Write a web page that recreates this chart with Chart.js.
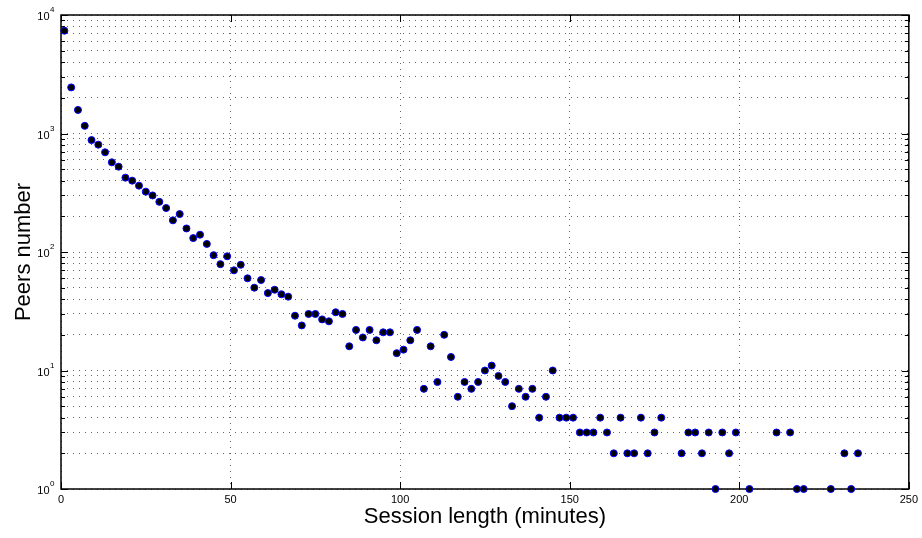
<!DOCTYPE html>
<html>
<head>
<meta charset="utf-8">
<title>Session length distribution</title>
<script src="https://cdn.jsdelivr.net/npm/chart.js@4.4.1/dist/chart.umd.min.js"></script>
<style>
  html, body { margin: 0; padding: 0; background: #fff; }
  canvas { display: block; }
</style>
</head>
<body>
<canvas id="sessions" width="922" height="538"></canvas>
<script>
// session length (minutes) and number of peers seen with that length
var sessionMinutes = [
  1, 3, 5, 7, 9, 11, 13, 15, 17, 19, 21, 23, 25, 27, 29, 31, 33, 35, 37, 39,
  41, 43, 45, 47, 49, 51, 53, 55, 57, 59, 61, 63, 65, 67, 69, 71, 73, 75, 77, 79,
  81, 83, 85, 87, 89, 91, 93, 95, 97, 99, 101, 103, 105, 107, 109, 111, 113, 115, 117, 119,
  121, 123, 125, 127, 129, 131, 133, 135, 137, 139, 141, 143, 145, 147, 149, 151, 153, 155, 157, 159,
  161, 163, 165, 167, 169, 171, 173, 175, 177, 183, 185, 187, 189, 191, 193, 195, 197, 199, 203,
  211, 215, 217, 219, 227, 231, 233, 235
];
var peerCounts = [
  7370, 2450, 1580, 1160, 880, 805, 694, 571, 525, 424, 400, 363, 323, 300, 265, 235, 185, 209, 158, 131,
  140, 117, 94, 79, 92, 70, 78, 60, 50, 58, 45, 48, 44, 42, 29, 24, 30, 30, 27, 26,
  31, 30, 16, 22, 19, 22, 18, 21, 21, 14, 15, 18, 22, 7, 16, 8, 20, 13, 6, 8,
  7, 8, 10, 11, 9, 8, 5, 7, 6, 7, 4, 6, 10, 4, 4, 4, 3, 3, 3, 4,
  3, 2, 4, 2, 2, 4, 2, 3, 4, 2, 3, 3, 2, 3, 1, 3, 2, 3, 1,
  3, 3, 1, 1, 1, 2, 1, 2
];

var xTickValues = [0, 50, 100, 150, 200, 250];
var yDecades = [1, 10, 100, 1000, 10000];

// log grid: 1..9 in every decade
var yGridValues = [];
yDecades.forEach(function (d, i) {
  if (i == yDecades.length - 1) { yGridValues.push(d); return; }
  for (var m = 1; m < 10; m++) yGridValues.push(d * m);
});

var points = sessionMinutes.map(function (m, i) { return { x: m, y: peerCounts[i] }; });

var FONT = "'Liberation Sans', Arial, Helvetica, sans-serif";

// box around the plot, inward ticks and the 10^n labels
var framePlugin = {
  id: "frame",
  beforeDatasetsDraw: function (chart) {
    var ctx = chart.ctx, a = chart.chartArea;
    var xs = chart.scales.x, ys = chart.scales.y;
    ctx.save();
    ctx.setLineDash([]);
    ctx.strokeStyle = "#000";

    ctx.lineWidth = 1;
    ctx.beginPath();
    xTickValues.forEach(function (v) {
      var px = Math.round(xs.getPixelForValue(v)) + 0.5;
      ctx.moveTo(px, a.bottom); ctx.lineTo(px, a.bottom - 7);
      ctx.moveTo(px, a.top); ctx.lineTo(px, a.top + 7);
    });
    yGridValues.forEach(function (v) {
      var py = Math.round(ys.getPixelForValue(v)) + 0.5;
      var len = yDecades.indexOf(v) >= 0 ? 7 : 4;
      ctx.moveTo(a.left, py); ctx.lineTo(a.left + len, py);
      ctx.moveTo(a.right, py); ctx.lineTo(a.right - len, py);
    });
    ctx.stroke();

    ctx.lineWidth = 1.5;
    ctx.strokeRect(a.left, a.top, a.right - a.left, a.bottom - a.top);

    ctx.fillStyle = "#000";
    ctx.textAlign = "right";
    ctx.textBaseline = "alphabetic";
    yDecades.forEach(function (v, i) {
      var py = ys.getPixelForValue(v);
      ctx.font = "11px " + FONT;
      ctx.textAlign = "right";
      ctx.fillText("10", 49.5, py + 5);
      ctx.font = "8px " + FONT;
      ctx.textAlign = "left";
      ctx.fillText(String(i), 50, py - 3);
    });
    ctx.restore();
  }
};

var config = {
  type: "scatter",
  data: {
    datasets: [
      {
        label: "Peers",
        data: points,
        backgroundColor: "#000",
        borderColor: "#0000ff",
        borderWidth: 1,
        pointRadius: 3.5,
        pointHoverRadius: 3.5,
        clip: false,
      },
    ],
  },
  options: {
    responsive: false,
    animation: false,
    devicePixelRatio: 1,
    layout: { padding: { top: 15, right: 12, left: 0, bottom: 0 } },
    plugins: {
      legend: { display: false },
      tooltip: { enabled: false },
    },
    scales: {
      x: {
        type: "linear",
        min: 0,
        max: 250,
        afterBuildTicks: function (s) { s.ticks = xTickValues.map(function (v) { return { value: v }; }); },
        afterFit: function (s) { s.height = 49; },
        ticks: { font: { family: FONT, size: 11 }, color: "#000", padding: 4, maxRotation: 0 },
        grid: { drawTicks: false, color: "rgba(0,0,0,0.6)", lineWidth: 1 },
        border: { display: false, dash: [1, 5] },
        title: {
          display: true,
          text: "Session length (minutes)",
          font: { family: FONT, size: 22 },
          color: "#000",
          padding: { top: 0, bottom: 8 },
        },
      },
      y: {
        type: "logarithmic",
        min: 1,
        max: 10000,
        afterBuildTicks: function (s) {
          s.ticks = yGridValues.map(function (v) { return { value: v, major: yDecades.indexOf(v) >= 0 }; });
        },
        afterFit: function (s) { s.width = 61; },
        ticks: { display: false },
        grid: { drawTicks: false, color: "rgba(0,0,0,0.6)", lineWidth: 1 },
        border: { display: false, dash: [1, 5] },
        title: {
          display: true,
          text: "Peers number",
          font: { family: FONT, size: 22 },
          color: "#000",
          padding: { top: 11, bottom: 0 },
        },
      },
    },
  },
  plugins: [framePlugin],
};

window.addEventListener("load", function () {
  var ctx = document.getElementById("sessions");
  new Chart(ctx, config);
});
</script>
</body>
</html>
